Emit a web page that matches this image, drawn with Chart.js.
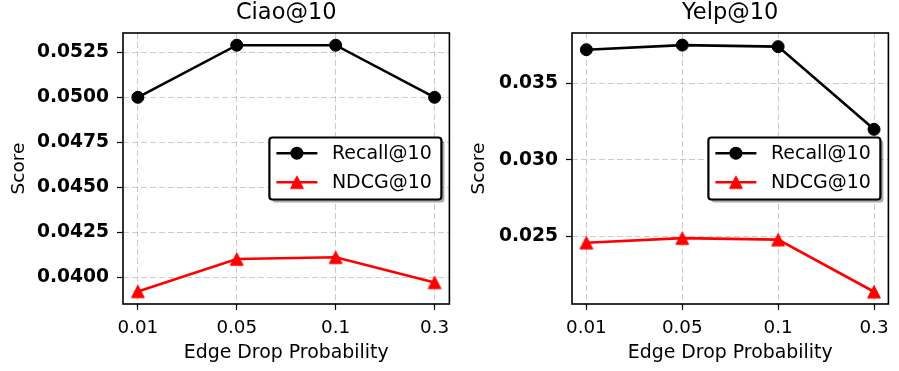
<!DOCTYPE html>
<html>
<head>
<meta charset="utf-8">
<script src="https://cdn.jsdelivr.net/npm/chart.js@4.4.1/dist/chart.umd.min.js"></script>
<style>
  html, body { margin: 0; padding: 0; background: #ffffff; }
  #wrap { position: relative; width: 899px; height: 371px; overflow: hidden; }
  canvas { position: absolute; top: 0; }
</style>
</head>
<body>
<div id="wrap">
  <canvas id="c1" width="460" height="371" style="left:0px"></canvas>
  <canvas id="c2" width="439" height="371" style="left:460px"></canvas>
</div>
<script>
// ---------------- data ----------------
const probabilities = ['0.01', '0.05', '0.1', '0.3'];
const seriesNames = ['Recall@10', 'NDCG@10'];
const ciaoRecall = [0.0500, 0.0529, 0.0529, 0.0500];
const ciaoNdcg   = [0.0392, 0.0410, 0.0411, 0.0397];
const yelpRecall = [0.0372, 0.0375, 0.0374, 0.0320];
const yelpNdcg   = [0.0246, 0.0249, 0.0248, 0.0214];
const ciaoTitle = 'Ciao@10';
const yelpTitle = 'Yelp@10';
const xAxisTitle = 'Edge Drop Probability';
const yAxisTitle = 'Score';

// ---------------- style ----------------
const FONT = "'DejaVu Sans', sans-serif";
const RED = '#ff0000';

function makeTriangle(color) {
  const c = document.createElement('canvas');
  c.width = 16; c.height = 16;
  const g = c.getContext('2d');
  g.fillStyle = color; g.strokeStyle = color; g.lineWidth = 1;
  g.beginPath();
  g.moveTo(8, 1.8); g.lineTo(14.4, 14.2); g.lineTo(1.6, 14.2); g.closePath();
  g.fill(); g.stroke();
  return c;
}
const triangleImg = makeTriangle(RED);

const spinesPlugin = {
  id: 'spines',
  afterDatasetsDraw(chart) {
    const {ctx, chartArea: a} = chart;
    ctx.save();
    ctx.strokeStyle = '#000';
    ctx.lineWidth = 1.6;
    ctx.setLineDash([]);
    ctx.strokeRect(a.left, a.top, a.right - a.left, a.bottom - a.top);
    ctx.restore();
  }
};

function roundRect(ctx, x, y, w, h, r) {
  ctx.beginPath();
  ctx.moveTo(x + r, y);
  ctx.lineTo(x + w - r, y);
  ctx.arcTo(x + w, y, x + w, y + r, r);
  ctx.lineTo(x + w, y + h - r);
  ctx.arcTo(x + w, y + h, x + w - r, y + h, r);
  ctx.lineTo(x + r, y + h);
  ctx.arcTo(x, y + h, x, y + h - r, r);
  ctx.lineTo(x, y + r);
  ctx.arcTo(x, y, x + r, y, r);
  ctx.closePath();
}

const legendPlugin = {
  id: 'mplLegend',
  afterDraw(chart) {
    const {ctx, chartArea: a} = chart;
    const w = 172, h = 62;
    const x = a.right - 8 - w;
    const y = (a.top + a.bottom) / 2 - h / 2;
    ctx.save();
    ctx.fillStyle = 'rgba(0,0,0,0.33)';
    roundRect(ctx, x + 3, y + 3, w, h, 3);
    ctx.fill();
    ctx.fillStyle = '#fff';
    roundRect(ctx, x, y, w, h, 3);
    ctx.fill();
    ctx.strokeStyle = '#000';
    ctx.lineWidth = 2.2;
    ctx.stroke();
    chart.data.datasets.forEach((ds, i) => {
      const ry = y + 15.7 + i * 29;
      ctx.strokeStyle = ds.borderColor;
      ctx.lineWidth = 2.6;
      ctx.beginPath();
      ctx.moveTo(x + 7, ry); ctx.lineTo(x + 48, ry);
      ctx.stroke();
      const mx = x + 27.5;
      if (ds.pointStyle === 'circle') {
        ctx.fillStyle = ds.pointBackgroundColor;
        ctx.beginPath();
        ctx.arc(mx, ry, 6.5, 0, Math.PI * 2);
        ctx.fill();
      } else {
        ctx.drawImage(ds.pointStyle, mx - 8, ry - 8);
      }
      ctx.fillStyle = '#000';
      ctx.font = '19px ' + FONT;
      ctx.textBaseline = 'middle';
      ctx.textAlign = 'left';
      ctx.fillText(ds.label, x + 62.5, ry + 1);
    });
    ctx.restore();
  }
};

function buildChart(canvasId, title, recall, ndcg, yMin, yMax, yStep, decimals, yAxisWidth, padRight) {
  const toPts = arr => arr.map((v, i) => ({x: i, y: v}));
  return new Chart(document.getElementById(canvasId), {
    type: 'line',
    data: {
      datasets: [
        {
          label: seriesNames[0], data: toPts(recall),
          borderColor: '#000', backgroundColor: '#000',
          pointBackgroundColor: '#000', pointBorderColor: '#000',
          borderWidth: 2.6, pointStyle: 'circle', pointRadius: 6, pointBorderWidth: 1,
          tension: 0, fill: false
        },
        {
          label: seriesNames[1], data: toPts(ndcg),
          borderColor: RED, backgroundColor: RED,
          pointBackgroundColor: RED, pointBorderColor: RED,
          borderWidth: 2.6, pointStyle: triangleImg, pointRadius: 8,
          tension: 0, fill: false
        }
      ]
    },
    options: {
      responsive: false, animation: false, devicePixelRatio: 1,
      layout: { padding: { left: 0, right: padRight, top: 0, bottom: 0 } },
      plugins: {
        legend: { display: false },
        tooltip: { enabled: false },
        title: {
          display: true, text: title, color: '#000', fullSize: false,
          font: { family: FONT, size: 22.5, weight: 'normal' },
          padding: { top: 0, bottom: 6 }
        }
      },
      scales: {
        x: {
          type: 'linear', min: -0.15, max: 3.15,
          afterFit(scale) { scale.height = 67; },
          ticks: {
            stepSize: 1, includeBounds: false, autoSkip: false, maxRotation: 0,
            color: '#000', padding: 7,
            font: { family: FONT, size: 18.3 },
            callback: v => probabilities[v] !== undefined ? probabilities[v] : ''
          },
          grid: {
            color: 'rgba(170,170,170,0.6)', lineWidth: 1, borderDash: [6, 3],
            drawTicks: true, tickLength: 6, tickColor: '#000', tickWidth: 1.2, tickBorderDash: []
          },
          border: { display: false, dash: [6, 3] },
          title: {
            display: true, text: xAxisTitle, color: '#000',
            font: { family: FONT, size: 18.9 }, padding: { top: 0, bottom: 7 }
          }
        },
        y: {
          type: 'linear', min: yMin, max: yMax,
          afterFit(scale) { scale.width = yAxisWidth; },
          ticks: {
            stepSize: yStep, includeBounds: false, color: '#000', padding: 8,
            font: { family: FONT, size: 18.7, weight: 'bold' },
            callback: v => Number(v).toFixed(decimals)
          },
          grid: {
            color: 'rgba(170,170,170,0.6)', lineWidth: 1, borderDash: [6, 3],
            drawTicks: true, tickLength: 6, tickColor: '#000', tickWidth: 1.2, tickBorderDash: []
          },
          border: { display: false, dash: [6, 3] },
          title: {
            display: true, text: yAxisTitle, color: '#000',
            font: { family: FONT, size: 18.5 }, padding: { top: 8, bottom: 0 }
          }
        }
      }
    },
    plugins: [spinesPlugin, legendPlugin]
  });
}

buildChart('c1', ciaoTitle, ciaoRecall, ciaoNdcg, 0.0385, 0.05358, 0.0025, 4, 123, 9);
buildChart('c2', yelpTitle, yelpRecall, yelpNdcg, 0.0206, 0.03829, 0.005, 3, 112, 1);
</script>
</body>
</html>
